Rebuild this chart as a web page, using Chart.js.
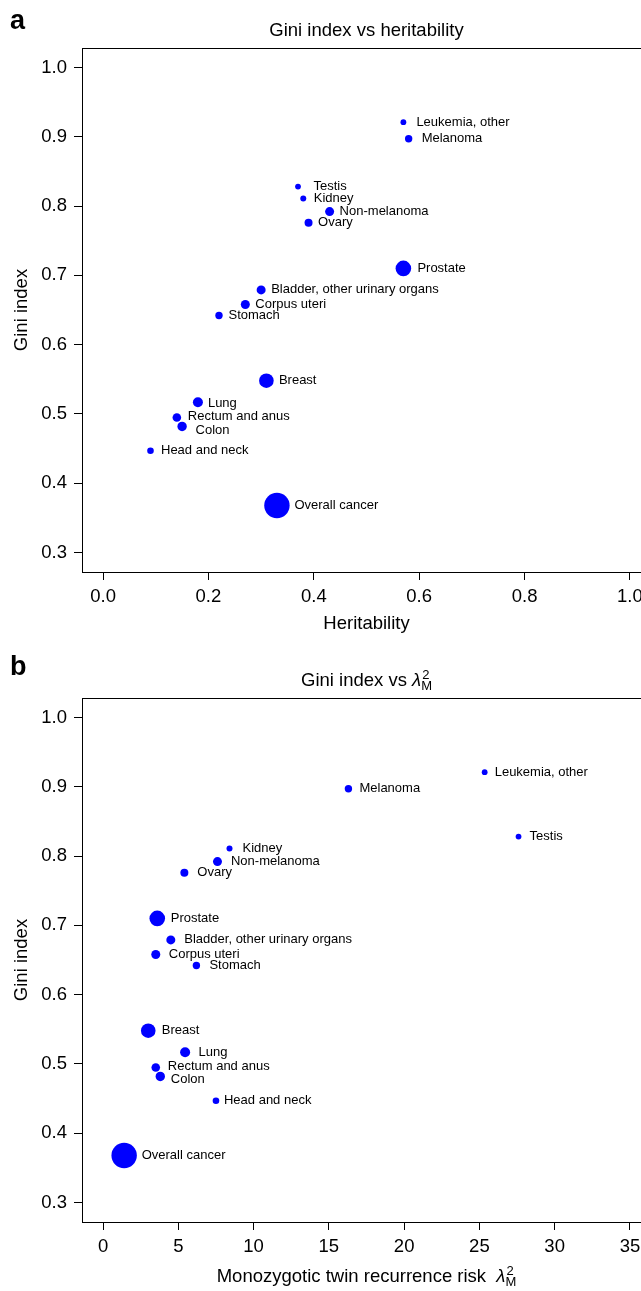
<!DOCTYPE html>
<html>
<head>
<meta charset="utf-8">
<script src="https://cdn.jsdelivr.net/npm/chart.js"></script>
<style>
  html, body { margin: 0; padding: 0; background: #fff; width: 641px; height: 1291px; overflow: hidden; }
  canvas { display: block; }
</style>
</head>
<body>
<canvas id="panelA" width="700" height="650"></canvas>
<canvas id="panelB" width="700" height="650"></canvas>
<script>
// cancer sites, same order in both panels
const cancers = ['Leukemia, other', 'Melanoma', 'Testis', 'Kidney', 'Non-melanoma', 'Ovary', 'Prostate',
  'Bladder, other urinary organs', 'Corpus uteri', 'Stomach', 'Breast', 'Lung', 'Rectum and anus', 'Colon',
  'Head and neck', 'Overall cancer'];
const heritability = [0.57, 0.58, 0.37, 0.38, 0.43, 0.39, 0.57, 0.30, 0.27, 0.22, 0.31, 0.18, 0.14, 0.15, 0.09, 0.33];
const lambdaM2 = [25.35, 16.3, 27.6, 8.4, 7.6, 5.4, 3.6, 4.5, 3.5, 6.2, 3.0, 5.45, 3.5, 3.8, 7.5, 1.4];
const gini = [0.921, 0.897, 0.828, 0.811, 0.792, 0.776, 0.710, 0.679, 0.658, 0.642, 0.548, 0.517, 0.495, 0.482, 0.447, 0.368];

// tick labels
const heritTicks = [0, 0.2, 0.4, 0.6, 0.8, 1.0];
const lambdaTicks = [0, 5, 10, 15, 20, 25, 30, 35];
const giniTicks = [0.3, 0.4, 0.5, 0.6, 0.7, 0.8, 0.9, 1.0];

// marker size per site (px radius)
const markerRadius = [2.9, 3.7, 2.9, 3.0, 4.5, 4.0, 7.8, 4.5, 4.5, 3.7, 7.3, 5.0, 4.3, 4.7, 3.3, 12.7];

// label nudges in px [dx, dy] from point centre
const labelShiftA = [[13, 0], [13, 0], [15.5, 0], [10.5, 0], [10, 0], [9.5, 0], [14, 0], [10, 0], [10, 0], [9.5, 0],
  [12.5, 0], [10, 1], [11, -1], [13.5, 4], [10.5, 0], [17.5, 0]];
const labelShiftB = [[10, 0], [11, 0], [11, 0], [13, 0], [13.5, 0], [13, 0], [13.5, 0], [13.5, 0], [13, 0], [13, 0],
  [13.5, 0], [13.5, 0], [12, -1], [10.5, 2.5], [8, 0], [17.5, 0]];

const FONT = '"Liberation Sans", Arial, Helvetica, sans-serif';
const BLUE = '#0000ff';

// plot box position inside each canvas
const BOX_LEFT = 82, BOX_TOP = 48, BOX_BOTTOM = 572, BOX_RIGHT = 651;

// draw a line of text made of parts, centred on cx
function richWidth(ctx, parts) {
  let w = 0;
  parts.forEach(p => {
    ctx.font = p.font;
    if (p.sup !== undefined) {
      w += Math.max(ctx.measureText(p.sup).width, ctx.measureText(p.sub).width);
    } else {
      w += ctx.measureText(p.text).width;
    }
  });
  return w;
}
function drawRich(ctx, parts, cx, baseline) {
  let x = cx - richWidth(ctx, parts) / 2;
  parts.forEach(p => {
    ctx.font = p.font;
    if (p.sup !== undefined) {
      ctx.fillText(p.sup, x + 1, baseline - 7);
      ctx.fillText(p.sub, x, baseline + 4);
      x += Math.max(ctx.measureText(p.sup).width, ctx.measureText(p.sub).width);
    } else {
      ctx.fillText(p.text, x, baseline);
      x += ctx.measureText(p.text).width;
    }
  });
}

const decorations = {
  id: 'decorations',
  afterDatasetsDraw(chart, args, opts) {
    const ctx = chart.ctx;
    const area = chart.chartArea;
    const meta = chart.getDatasetMeta(0);
    ctx.save();
    // full box
    ctx.strokeStyle = '#000';
    ctx.lineWidth = 1;
    ctx.strokeRect(Math.round(area.left) + 0.5, Math.round(area.top) + 0.5,
      Math.round(area.right - area.left), Math.round(area.bottom - area.top));

    // point labels
    ctx.fillStyle = '#000';
    ctx.textAlign = 'left';
    ctx.textBaseline = 'middle';
    ctx.font = '13px ' + FONT;
    meta.data.forEach((pt, i) => {
      const s = opts.shift[i];
      ctx.fillText(cancers[i], pt.x + s[0], pt.y + s[1]);
    });

    ctx.textBaseline = 'alphabetic';
    // panel letter
    ctx.font = 'bold 27px ' + FONT;
    ctx.fillText(opts.letter, 10, opts.letterY);

    const cx = (area.left + area.right) / 2;
    drawRich(ctx, opts.title, cx, 36);
    drawRich(ctx, opts.xTitle, cx, area.bottom + opts.xTitleGap);

    // y title
    ctx.save();
    ctx.translate(27, (area.top + area.bottom) / 2);
    ctx.rotate(-Math.PI / 2);
    ctx.font = '18.5px ' + FONT;
    ctx.textAlign = 'center';
    ctx.fillText('Gini index', 0, 0);
    ctx.restore();
    ctx.restore();
  }
};

function axisOpts(min, max, tickValues, fmt, isX) {
  return {
    type: 'linear',
    min: min,
    max: max,
    afterBuildTicks: scale => { scale.ticks = tickValues.map(v => ({ value: v })); },
    afterFit: scale => {
      if (isX) scale.height = 650 - BOX_BOTTOM;
      else scale.width = BOX_LEFT;
    },
    grid: { display: true, drawOnChartArea: false, drawTicks: true, tickLength: 8, tickColor: '#000', tickWidth: 1 },
    border: { display: true, color: '#000', width: 1 },
    ticks: {
      color: '#000',
      font: { family: FONT, size: 18.5 },
      padding: isX ? 6 : 7,
      maxRotation: 0,
      autoSkip: false,
      callback: fmt
    }
  };
}

function makePanel(id, xs, xMin, xMax, xTicks, xFmt, shift, letter, letterY, title, xTitle, xTitleGap) {
  const points = xs.map((x, i) => ({ x: x, y: gini[i] }));
  return new Chart(document.getElementById(id), {
    type: 'scatter',
    data: {
      datasets: [{
        data: points,
        pointRadius: markerRadius,
        pointBackgroundColor: BLUE,
        pointBorderWidth: 0,
        pointBorderColor: BLUE
      }]
    },
    plugins: [decorations],
    options: {
      responsive: false,
      animation: false,
      events: [],
      layout: { padding: { left: 0, top: BOX_TOP, right: 700 - BOX_RIGHT, bottom: 0 } },
      scales: {
        x: axisOpts(xMin, xMax, xTicks, xFmt, true),
        y: axisOpts(0.272, 1.028, giniTicks, v => v.toFixed(1), false)
      },
      plugins: {
        legend: { display: false },
        tooltip: { enabled: false },
        decorations: { shift, letter, letterY, title, xTitle, xTitleGap }
      }
    }
  });
}

const reg = '18.5px ' + FONT;
const ital = 'italic 18.5px ' + FONT;
const small = '13px ' + FONT;

makePanel('panelA', heritability, -0.04, 1.04, heritTicks, v => v.toFixed(1), labelShiftA, 'a', 29,
  [{ text: 'Gini index vs heritability', font: reg }],
  [{ text: 'Heritability', font: reg }], 57);

makePanel('panelB', lambdaM2, -1.4, 36.4, lambdaTicks, v => String(v), labelShiftB, 'b', 25,
  [{ text: 'Gini index vs ', font: reg }, { text: '\u03BB', font: ital }, { sup: '2', sub: 'M', font: small }],
  [{ text: 'Monozygotic twin recurrence risk  ', font: reg }, { text: '\u03BB', font: ital }, { sup: '2', sub: 'M', font: small }], 60);
</script>
</body>
</html>
